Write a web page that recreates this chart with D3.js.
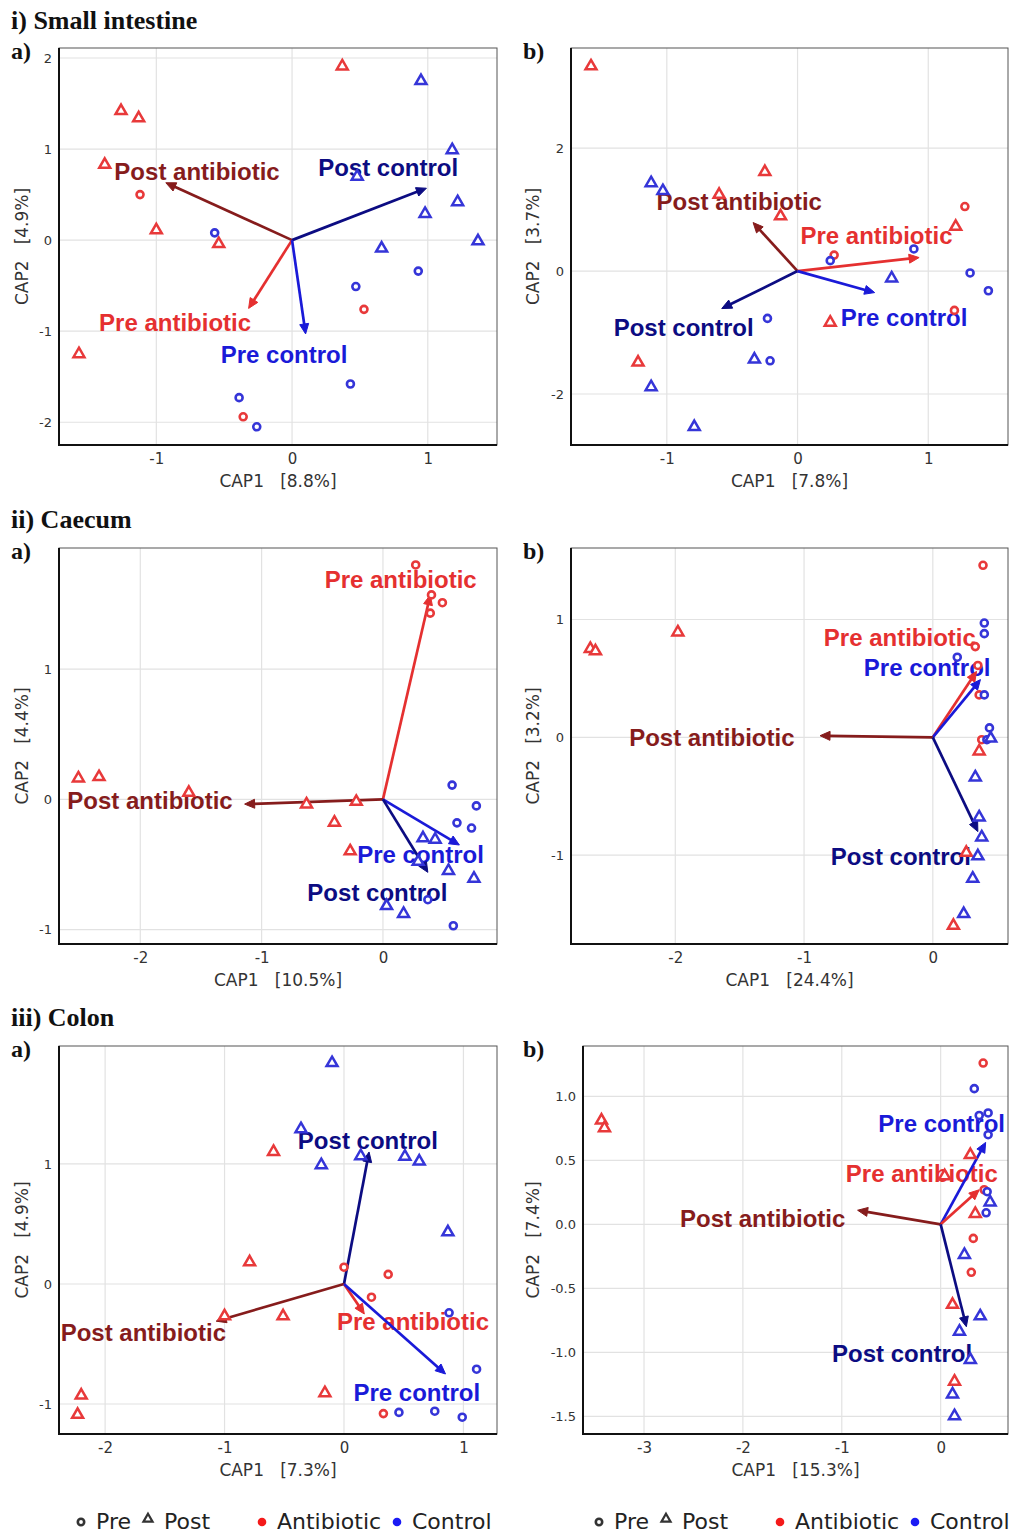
<!DOCTYPE html>
<html>
<head>
<meta charset="utf-8">
<script src="https://cdn.jsdelivr.net/npm/d3@7"></script>
<style>
  body { margin: 0; background: #fff; }
  svg { display: block; }
</style>
</head>
<body>
<div id="chart"></div>
<script>
// ---- data: [CAP1, CAP2, treatment, time] ----
var siaPoints = [
  [0.37, 1.92, "A", "Post"], [-1.26, 1.43, "A", "Post"], [-1.13, 1.35, "A", "Post"], [-1.38, 0.84, "A", "Post"],
  [-1.0, 0.12, "A", "Post"], [-0.54, -0.03, "A", "Post"], [-1.57, -1.24, "A", "Post"],
  [-1.12, 0.50, "A", "Pre"], [0.53, -0.76, "A", "Pre"], [-0.36, -1.94, "A", "Pre"],
  [0.95, 1.76, "C", "Post"], [1.18, 1.00, "C", "Post"], [0.48, 0.71, "C", "Post"], [1.22, 0.43, "C", "Post"],
  [0.98, 0.30, "C", "Post"], [1.37, 0.0, "C", "Post"], [0.66, -0.08, "C", "Post"],
  [-0.57, 0.08, "C", "Pre"], [0.93, -0.34, "C", "Pre"], [0.47, -0.51, "C", "Pre"], [0.43, -1.58, "C", "Pre"],
  [-0.39, -1.73, "C", "Pre"], [-0.26, -2.05, "C", "Pre"]
];
var sibPoints = [
  [-1.58, 3.35, "A", "Post"], [-0.25, 1.63, "A", "Post"], [-0.60, 1.26, "A", "Post"], [-0.13, 0.91, "A", "Post"],
  [1.21, 0.74, "A", "Post"], [0.25, -0.82, "A", "Post"], [-1.22, -1.47, "A", "Post"],
  [1.28, 1.05, "A", "Pre"], [0.28, 0.26, "A", "Pre"], [1.20, -0.64, "A", "Pre"],
  [-1.12, 1.45, "C", "Post"], [-1.03, 1.32, "C", "Post"], [0.72, -0.10, "C", "Post"], [-0.33, -1.42, "C", "Post"],
  [-1.12, -1.87, "C", "Post"], [-0.79, -2.52, "C", "Post"],
  [0.25, 0.17, "C", "Pre"], [0.89, 0.36, "C", "Pre"], [1.32, -0.03, "C", "Pre"], [1.46, -0.32, "C", "Pre"],
  [-0.23, -0.77, "C", "Pre"], [-0.21, -1.46, "C", "Pre"]
];
var caPoints = [
  [0.27, 1.80, "A", "Pre"], [0.40, 1.57, "A", "Pre"], [0.49, 1.51, "A", "Pre"], [0.39, 1.43, "A", "Pre"],
  [-2.51, 0.17, "A", "Post"], [-2.34, 0.18, "A", "Post"], [-1.60, 0.06, "A", "Post"], [-0.63, -0.03, "A", "Post"],
  [-0.22, -0.01, "A", "Post"], [-0.40, -0.17, "A", "Post"], [-0.27, -0.39, "A", "Post"],
  [0.57, 0.11, "C", "Pre"], [0.77, -0.05, "C", "Pre"], [0.61, -0.18, "C", "Pre"], [0.73, -0.22, "C", "Pre"],
  [0.37, -0.77, "C", "Pre"], [0.58, -0.97, "C", "Pre"],
  [0.33, -0.29, "C", "Post"], [0.43, -0.30, "C", "Post"], [0.54, -0.54, "C", "Post"], [0.75, -0.60, "C", "Post"],
  [0.03, -0.81, "C", "Post"], [0.17, -0.87, "C", "Post"], [0.29, -0.47, "C", "Post"]
];
var cbPoints = [
  [0.39, 1.46, "A", "Pre"], [0.33, 0.77, "A", "Pre"], [0.35, 0.61, "A", "Pre"], [0.36, 0.36, "A", "Pre"], [0.38, -0.02, "A", "Pre"],
  [-2.66, 0.76, "A", "Post"], [-2.62, 0.74, "A", "Post"], [-1.98, 0.90, "A", "Post"], [0.36, -0.11, "A", "Post"],
  [0.26, -0.97, "A", "Post"], [0.16, -1.59, "A", "Post"],
  [0.40, 0.97, "C", "Pre"], [0.40, 0.88, "C", "Pre"], [0.19, 0.68, "C", "Pre"], [0.40, 0.36, "C", "Pre"],
  [0.44, 0.08, "C", "Pre"], [0.42, -0.02, "C", "Pre"],
  [0.45, 0.0, "C", "Post"], [0.33, -0.33, "C", "Post"], [0.36, -0.67, "C", "Post"], [0.38, -0.84, "C", "Post"],
  [0.35, -1.0, "C", "Post"], [0.31, -1.19, "C", "Post"], [0.24, -1.49, "C", "Post"]
];
var coaPoints = [
  [-0.10, 1.85, "C", "Post"], [-0.36, 1.30, "C", "Post"], [-0.19, 1.00, "C", "Post"], [0.14, 1.075, "C", "Post"],
  [0.51, 1.07, "C", "Post"], [0.63, 1.03, "C", "Post"], [0.87, 0.44, "C", "Post"],
  [-0.59, 1.11, "A", "Post"], [-0.79, 0.19, "A", "Post"], [-1.0, -0.26, "A", "Post"], [-0.51, -0.26, "A", "Post"],
  [-0.16, -0.90, "A", "Post"], [-2.20, -0.92, "A", "Post"], [-2.23, -1.08, "A", "Post"],
  [0.0, 0.14, "A", "Pre"], [0.37, 0.08, "A", "Pre"], [0.23, -0.11, "A", "Pre"], [0.33, -1.08, "A", "Pre"],
  [0.88, -0.24, "C", "Pre"], [1.11, -0.71, "C", "Pre"], [0.46, -1.07, "C", "Pre"], [0.76, -1.06, "C", "Pre"],
  [0.99, -1.11, "C", "Pre"]
];
var cobPoints = [
  [-3.43, 0.82, "A", "Post"], [-3.40, 0.76, "A", "Post"], [0.30, 0.55, "A", "Post"], [0.04, 0.385, "A", "Post"],
  [0.35, 0.09, "A", "Post"], [0.12, -0.62, "A", "Post"], [0.14, -1.22, "A", "Post"],
  [0.43, 1.26, "A", "Pre"], [0.44, 0.27, "A", "Pre"], [0.33, -0.11, "A", "Pre"], [0.31, -0.375, "A", "Pre"],
  [0.34, 1.06, "C", "Pre"], [0.39, 0.85, "C", "Pre"], [0.48, 0.87, "C", "Pre"], [0.48, 0.70, "C", "Pre"],
  [0.47, 0.255, "C", "Pre"], [0.46, 0.09, "C", "Pre"],
  [0.50, 0.18, "C", "Post"], [0.24, -0.23, "C", "Post"], [0.40, -0.71, "C", "Post"], [0.19, -0.83, "C", "Post"],
  [0.30, -1.05, "C", "Post"], [0.12, -1.32, "C", "Post"], [0.14, -1.49, "C", "Post"]
];

// ---- arrows: [name, tipX, tipY, labelX, labelY] ----
var siaArrows = [
  ["Post antibiotic", -0.93, 0.63, -0.70, 0.755],
  ["Post control", 0.99, 0.57, 0.708, 0.795],
  ["Pre antibiotic", -0.32, -0.75, -0.862, -0.90],
  ["Pre control", 0.10, -1.03, -0.059, -1.25]
];
var sibArrows = [
  ["Post antibiotic", -0.34, 0.79, -0.446, 1.14],
  ["Pre antibiotic", 0.93, 0.22, 0.604, 0.585],
  ["Post control", -0.58, -0.61, -0.871, -0.92],
  ["Pre control", 0.59, -0.35, 0.815, -0.76]
];
var caArrows = [
  ["Pre antibiotic", 0.39, 1.57, 0.146, 1.69],
  ["Post antibiotic", -1.14, -0.036, -1.92, -0.005],
  ["Pre control", 0.63, -0.35, 0.31, -0.42],
  ["Post control", 0.37, -0.56, -0.046, -0.71]
];
var cbArrows = [
  ["Pre antibiotic", 0.34, 0.56, -0.256, 0.85],
  ["Pre control", 0.37, 0.49, -0.044, 0.59],
  ["Post antibiotic", -0.876, 0.014, -1.716, 0.003],
  ["Post control", 0.35, -0.80, -0.248, -1.01]
];
var coaArrows = [
  ["Post control", 0.21, 1.10, 0.20, 1.20],
  ["Post antibiotic", -1.07, -0.31, -1.68, -0.405],
  ["Pre antibiotic", 0.17, -0.25, 0.578, -0.31],
  ["Pre control", 0.85, -0.75, 0.61, -0.90]
];
var cobArrows = [
  ["Pre control", 0.455, 0.64, 0.01, 0.79],
  ["Pre antibiotic", 0.39, 0.27, -0.19, 0.40],
  ["Post antibiotic", -0.84, 0.11, -1.80, 0.047],
  ["Post control", 0.26, -0.80, -0.39, -1.01]
];

// ---- axes ----
var xDomains = [[-1.717, 1.51], [-1.733, 1.61], [-2.67, 0.94], [-2.81, 0.584], [-2.386, 1.281], [-3.617, 0.681]];
var yDomains = [[-2.25, 2.11], [-2.83, 3.63], [-1.11, 1.93], [-1.754, 1.607], [-1.25, 1.983], [-1.638, 1.393]];
var xTicks = [[-1, 0, 1], [-1, 0, 1], [-2, -1, 0], [-2, -1, 0], [-2, -1, 0, 1], [-3, -2, -1, 0]];
var yTicks = [[-2, -1, 0, 1, 2], [-2, 0, 2], [-1, 0, 1], [-1, 0, 1], [-1, 0, 1], [-1.5, -1, -0.5, 0, 0.5, 1]];
var xTitles = ["CAP1   [8.8%]", "CAP1   [7.8%]", "CAP1   [10.5%]", "CAP1   [24.4%]", "CAP1   [7.3%]", "CAP1   [15.3%]"];
var yTitles = ["CAP2   [4.9%]", "CAP2   [3.7%]", "CAP2   [4.4%]", "CAP2   [3.2%]", "CAP2   [4.9%]", "CAP2   [7.4%]"];
var sections = ["i) Small intestine", "ii) Caecum", "iii) Colon"];
var legendTime = ["Pre", "Post"];
var legendTreat = ["Antibiotic", "Control"];

var allPoints = [siaPoints, sibPoints, caPoints, cbPoints, coaPoints, cobPoints];
var allArrows = [siaArrows, sibArrows, caArrows, cbArrows, coaArrows, cobArrows];

// plot boxes [left, top, right, bottom]
var boxes = [
  [59, 48, 497, 445], [571, 48, 1008, 445],
  [59, 548, 497, 944], [571, 548, 1008, 944],
  [59, 1046, 497, 1434], [583, 1046, 1008, 1434]
];

var pointColor = { A: "#e8393a", C: "#3535d8" };
var arrowColor = {
  "Post antibiotic": "#861c1c",
  "Pre antibiotic": "#e53030",
  "Post control": "#0c0c82",
  "Pre control": "#1a1ad8"
};

var width = 1015, height = 1533;
var svg = d3.select("#chart").append("svg")
  .attr("width", width)
  .attr("height", height)
  .style("font-family", "'DejaVu Sans', sans-serif");

// section headings
var sectionY = [29, 528, 1026];
sections.forEach(function(s, i) {
  svg.append("text").attr("x", 11).attr("y", sectionY[i])
    .style("font-family", "'Liberation Serif', serif").style("font-weight", "bold")
    .style("font-size", "26px").attr("fill", "#111").text(s);
});

var triPath = d3.symbol().type(d3.symbolTriangle).size(52)();

function drawPanel(i) {
  var b = boxes[i];
  var x = d3.scaleLinear().domain(xDomains[i]).range([b[0], b[2]]);
  var y = d3.scaleLinear().domain(yDomains[i]).range([b[3], b[1]]);
  var g = svg.append("g");
  var left = (i % 2 === 0);

  // panel letter
  g.append("text").attr("x", 11).attr("x", left ? 11 : 523).attr("y", b[1] + 11)
    .style("font-family", "'Liberation Serif', serif").style("font-weight", "bold")
    .style("font-size", "24px").attr("fill", "#111").text(left ? "a)" : "b)");

  // grid
  g.selectAll(".gx").data(xTicks[i]).enter().append("line")
    .attr("x1", d => x(d)).attr("x2", d => x(d))
    .attr("y1", b[1]).attr("y2", b[3])
    .attr("stroke", "#e2e2e2").attr("stroke-width", 1.2);
  g.selectAll(".gy").data(yTicks[i]).enter().append("line")
    .attr("y1", d => y(d)).attr("y2", d => y(d))
    .attr("x1", b[0]).attr("x2", b[2])
    .attr("stroke", "#e2e2e2").attr("stroke-width", 1.2);

  // frame
  g.append("rect").attr("x", b[0]).attr("y", b[1])
    .attr("width", b[2] - b[0]).attr("height", b[3] - b[1])
    .attr("fill", "none").attr("stroke", "#555").attr("stroke-width", 1);
  g.append("path").attr("d", `M${b[0]},${b[1]} V${b[3]} H${b[2]}`)
    .attr("fill", "none").attr("stroke", "#111").attr("stroke-width", 2);

  // axes labels
  var fmtX = function(d) { return String(d); };
  var fmtY = (i === 5) ? function(d) { return d.toFixed(1); } : fmtX;
  var xa = g.append("g").attr("transform", `translate(0,${b[3]})`)
    .call(d3.axisBottom(x).tickValues(xTicks[i]).tickSize(0).tickPadding(8).tickFormat(fmtX));
  xa.select(".domain").remove();
  xa.selectAll("text").style("font-size", "15px").attr("fill", "#333")
    .style("font-family", "'DejaVu Sans', sans-serif");
  var ya = g.append("g").attr("transform", `translate(${b[0]},0)`)
    .call(d3.axisLeft(y).tickValues(yTicks[i]).tickSize(0).tickPadding(7).tickFormat(fmtY));
  ya.select(".domain").remove();
  ya.selectAll("text").style("font-size", "13px").attr("fill", "#333")
    .style("font-family", "'DejaVu Sans', sans-serif");

  g.append("text").attr("x", (b[0] + b[2]) / 2).attr("y", b[3] + 42)
    .attr("text-anchor", "middle").style("font-size", "17px").attr("fill", "#333")
    .style("white-space", "pre").text(xTitles[i]);
  var yx = left ? 22 : 533;
  g.append("text").attr("transform", `translate(${yx + 6},${(b[1] + b[3]) / 2}) rotate(-90)`)
    .attr("text-anchor", "middle").style("font-size", "17px").attr("fill", "#333")
    .style("white-space", "pre").text(yTitles[i]);

  // arrow labels
  g.selectAll(".lab").data(allArrows[i]).enter().append("text")
    .attr("x", d => x(d[3])).attr("y", d => y(d[4]))
    .attr("dy", "0.36em").attr("text-anchor", "middle")
    .style("font-family", "'Liberation Sans', Arial, sans-serif").style("font-weight", "bold")
    .style("font-size", "24px").attr("fill", d => arrowColor[d[0]])
    .text(d => d[0]);

  // arrows
  var ox = x(0), oy = y(0);
  allArrows[i].forEach(function(d) {
    var tx = x(d[1]), ty = y(d[2]);
    var ang = Math.atan2(ty - oy, tx - ox);
    var L = 10, W = 4.5;
    var bx = tx - L * Math.cos(ang), by = ty - L * Math.sin(ang);
    var px = -Math.sin(ang) * W, py = Math.cos(ang) * W;
    g.append("line").attr("x1", ox).attr("y1", oy).attr("x2", bx + 2 * Math.cos(ang)).attr("y2", by + 2 * Math.sin(ang))
      .attr("stroke", arrowColor[d[0]]).attr("stroke-width", 2.7);
    g.append("path")
      .attr("d", `M${tx},${ty} L${bx + px},${by + py} L${bx - px},${by - py} Z`)
      .attr("fill", arrowColor[d[0]]).attr("stroke", arrowColor[d[0]]).attr("stroke-width", 1);
  });

  // points
  var pts = g.selectAll(".pt").data(allPoints[i]).enter().append("g")
    .attr("transform", d => `translate(${x(d[0])},${y(d[1])})`);
  pts.filter(d => d[3] === "Post").append("path")
    .attr("d", triPath).attr("transform", "translate(0,1)")
    .attr("fill", "#fff").attr("stroke", d => pointColor[d[2]]).attr("stroke-width", 2.5);
  pts.filter(d => d[3] === "Pre").append("circle")
    .attr("r", 3.5).attr("fill", "#fff").attr("stroke", d => pointColor[d[2]]).attr("stroke-width", 2.6);
}

for (var i = 0; i < 6; i++) drawPanel(i);

// legends
[0, 518].forEach(function(off) {
  var lg = svg.append("g").attr("transform", `translate(${off},0)`);
  var ly = 1521;
  lg.append("circle").attr("cx", 81).attr("cy", ly + 1).attr("r", 3.2).attr("fill", "#fff")
    .attr("stroke", "#333").attr("stroke-width", 2.6);
  lg.append("text").attr("x", 96).attr("y", ly + 8).style("font-size", "22px").attr("fill", "#222").text(legendTime[0]);
  lg.append("path").attr("d", d3.symbol().type(d3.symbolTriangle).size(36)())
    .attr("transform", `translate(148,${ly - 2})`).attr("fill", "#fff").attr("stroke", "#333").attr("stroke-width", 2.2);
  lg.append("text").attr("x", 164).attr("y", ly + 8).style("font-size", "22px").attr("fill", "#222").text(legendTime[1]);
  lg.append("circle").attr("cx", 262).attr("cy", ly + 1).attr("r", 4.3).attr("fill", "#f41a1a");
  lg.append("text").attr("x", 277).attr("y", ly + 8).style("font-size", "22px").attr("fill", "#222").text(legendTreat[0]);
  lg.append("circle").attr("cx", 397).attr("cy", ly + 1).attr("r", 4.3).attr("fill", "#1a1af4");
  lg.append("text").attr("x", 412).attr("y", ly + 8).style("font-size", "22px").attr("fill", "#222").text(legendTreat[1]);
});
</script>
</body>
</html>
